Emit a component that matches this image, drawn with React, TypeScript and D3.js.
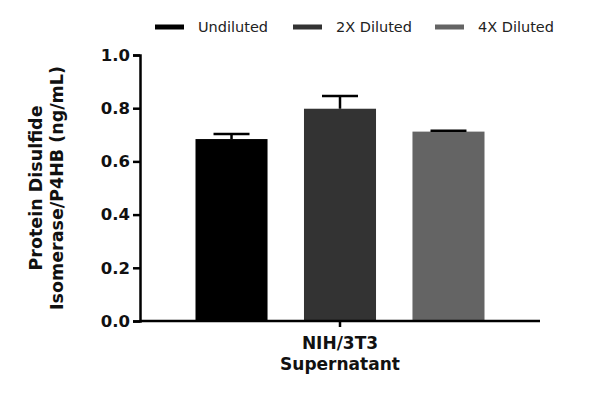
import { useEffect, useRef } from "react";
import * as d3 from "d3";

const category = ["NIH/3T3", "Supernatant"];
const series = ["Undiluted", "2X Diluted", "4X Diluted"];
const means = [0.684, 0.798, 0.712];
const errors = [0.019, 0.048, 0.003];
const colors = ["#000000", "#333333", "#646464"];
const yTicks = [0, 0.2, 0.4, 0.6, 0.8, 1.0];

const App = () => {
  const ref = useRef<SVGSVGElement>(null);

  useEffect(() => {
    const w = 600;
    const h = 398;
    const svg = d3.select(ref.current).attr("width", w).attr("height", h);
    svg.selectAll("*").remove();

    const font = "'DejaVu Sans', sans-serif";
    const left = 140;
    const right = 540;
    const top = 55;
    const bottom = 321;

    const yScale = d3.scaleLinear().domain([0, 1]).range([bottom, top]);
    const xOuter = d3.scaleBand().domain([category.join(" ")]).range([left, right]);
    const center = xOuter(category.join(" "))! + xOuter.bandwidth() / 2;
    const xInner = d3
      .scaleBand()
      .domain(series)
      .range([center - 144.5, center + 144.5])
      .paddingInner(0.336);

    // bars
    svg
      .selectAll(".bar")
      .data(series)
      .join("rect")
      .attr("x", (d) => xInner(d)!)
      .attr("y", (_, i) => yScale(means[i]))
      .attr("width", xInner.bandwidth())
      .attr("height", (_, i) => bottom - yScale(means[i]))
      .attr("fill", (_, i) => colors[i]);

    // error bars (upper only)
    const cap = 18;
    series.forEach((s, i) => {
      const cx = xInner(s)! + xInner.bandwidth() / 2;
      const yTop = yScale(means[i] + errors[i]);
      const g = svg.append("g").attr("stroke", "#000").attr("stroke-width", 2.5);
      g.append("line").attr("x1", cx).attr("x2", cx).attr("y1", yScale(means[i])).attr("y2", yTop);
      g.append("line").attr("x1", cx - cap).attr("x2", cx + cap).attr("y1", yTop).attr("y2", yTop);
    });

    // y axis
    const yAxis = d3
      .axisLeft(yScale)
      .tickValues(yTicks)
      .tickFormat(d3.format(".1f"))
      .tickSize(7)
      .tickPadding(3);
    const yg = svg.append("g").attr("transform", `translate(${left},0)`).call(yAxis);
    yg.select(".domain").attr("stroke", "#000").attr("stroke-width", 2.5);
    yg.selectAll(".tick line").attr("stroke", "#000").attr("stroke-width", 2.5);
    yg.selectAll(".tick text")
      .attr("fill", "#111")
      .style("font-family", font)
      .style("font-weight", "bold")
      .style("font-size", "16.5px");

    // x axis
    const xAxis = d3.axisBottom(xOuter).tickSize(6).tickFormat(() => "");
    const xg = svg.append("g").attr("transform", `translate(0,${bottom})`).call(xAxis);
    xg.select(".domain").attr("stroke", "#000").attr("stroke-width", 2.5).attr("d", `M${left},0H${right}`);
    xg.selectAll(".tick line").attr("stroke", "#000").attr("stroke-width", 2.5);

    const xl = svg
      .append("text")
      .attr("text-anchor", "middle")
      .attr("fill", "#111")
      .style("font-family", font)
      .style("font-weight", "bold")
      .style("font-size", "17px");
    category.forEach((c, i) => {
      xl.append("tspan").attr("x", center).attr("y", 349 + i * 21).text(c);
    });

    // y title
    const yt = svg
      .append("text")
      .attr("transform", `translate(0,188) rotate(-90)`)
      .attr("text-anchor", "middle")
      .attr("fill", "#111")
      .style("font-family", font)
      .style("font-weight", "bold")
      .style("font-size", "17.5px");
    yt.append("tspan").attr("x", 0).attr("y", 42).text("Protein Disulfide");
    yt.append("tspan").attr("x", 0).attr("y", 63).text("Isomerase/P4HB (ng/mL)");

    // legend
    const legendX = [155, 293, 435];
    series.forEach((s, i) => {
      const g = svg.append("g").attr("transform", `translate(${legendX[i]},27)`);
      g.append("rect").attr("x", 0).attr("y", -2.5).attr("width", 29).attr("height", 5).attr("fill", colors[i]);
      g.append("text")
        .attr("x", 43)
        .attr("y", 5)
        .attr("fill", "#222")
        .style("font-family", font)
        .style("font-size", "14.5px")
        .text(s);
    });
  }, []);

  return <svg ref={ref} style={{ display: "block", margin: "-8px", background: "#fff" }}></svg>;
};

export default App;
